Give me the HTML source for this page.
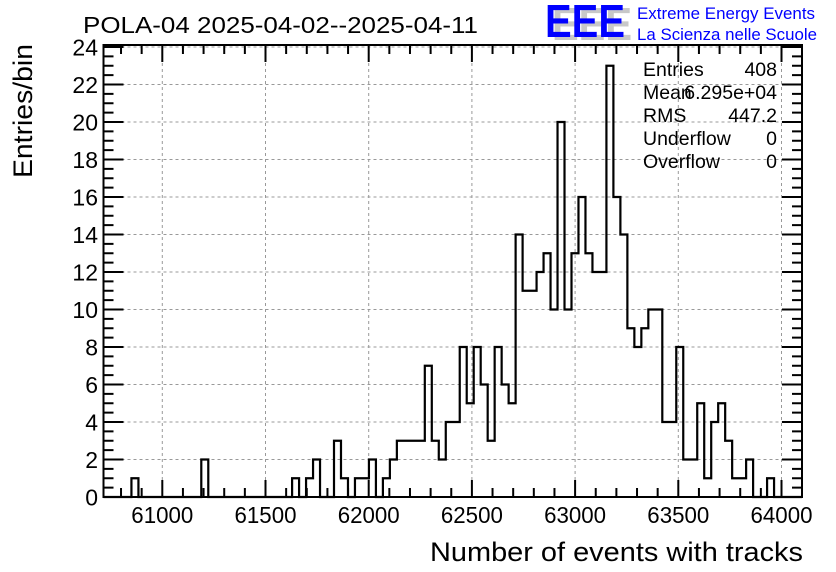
<!DOCTYPE html>
<html><head><meta charset="utf-8"><style>
html,body{margin:0;padding:0;background:#fff;}
svg{display:block;font-family:"Liberation Sans",Arial,sans-serif;}
</style></head><body>
<svg id="s" width="836" height="572" viewBox="0 0 836 572" xmlns="http://www.w3.org/2000/svg">
<rect width="836" height="572" fill="#fff"/>
<g id="grid" stroke="#999" stroke-width="1" stroke-dasharray="3,3" fill="none"></g>
<g id="ticks" stroke="#000" stroke-width="2" fill="none"></g>
<path id="hist" fill="none" stroke="#000" stroke-width="2.2"/>
<rect x="103.5" y="45" width="698.5" height="452" fill="none" stroke="#000" stroke-width="2"/>
<text x="83" y="33" font-size="23" textLength="395" lengthAdjust="spacingAndGlyphs">POLA-04 2025-04-02--2025-04-11</text>
<g font-size="46" font-weight="bold">
<text x="552" y="40" fill="#c8c8c8" textLength="80" lengthAdjust="spacingAndGlyphs">EEE</text>
<text x="545" y="37" fill="#0000ff" textLength="80" lengthAdjust="spacingAndGlyphs">EEE</text>
</g>
<text x="637" y="19" font-size="16.5" fill="#0000ff" textLength="178" lengthAdjust="spacingAndGlyphs">Extreme Energy Events</text>
<text x="637" y="40" font-size="16.5" fill="#0000ff" textLength="180" lengthAdjust="spacingAndGlyphs">La Scienza nelle Scuole</text>
<g font-size="19.5" fill="#000">
<text x="643" y="76">Entries</text><text x="777" y="76" text-anchor="end">408</text>
<text x="643" y="99">Mean</text><text x="777" y="99" text-anchor="end">6.295e+04</text>
<text x="643" y="122">RMS</text><text x="777" y="122" text-anchor="end">447.2</text>
<text x="643" y="145">Underflow</text><text x="777" y="145" text-anchor="end">0</text>
<text x="643" y="168">Overflow</text><text x="777" y="168" text-anchor="end">0</text>
</g>
<g id="ylab" font-size="23" text-anchor="end"></g>
<g id="xlab" font-size="23" text-anchor="middle"></g>
<text transform="translate(32,178) rotate(-90)" font-size="27" text-anchor="start" textLength="134" lengthAdjust="spacingAndGlyphs">Entries/bin</text>
<text x="430" y="561" font-size="27" textLength="373" lengthAdjust="spacingAndGlyphs">Number of events with tracks</text>
</svg>
<script>
var ns="http://www.w3.org/2000/svg";
var L=103.5,R=802,T=45,B=497,bw=(R-L)/100,sy=18.75;
var v=[0,0,0,0,1,0,0,0,0,0,0,0,0,0,2,0,0,0,0,0,0,0,0,0,0,0,0,1,0,1,2,0,0,3,1,0,1,1,2,0,1,2,3,3,3,3,7,3,2,4,4,8,5,8,6,3,8,6,5,14,11,11,12,13,10,20,10,13,16,13,12,12,23,16,14,9,8,9,10,10,4,4,8,2,2,5,1,4,5,3,1,1,2,0,0,1,0,0,0,0];
var d="M"+L+" "+B;
for(var i=0;i<100;i++){var y=B-v[i]*sy;d+=" L"+(L+i*bw).toFixed(2)+" "+y.toFixed(2)+" L"+(L+(i+1)*bw).toFixed(2)+" "+y.toFixed(2);}
d+=" L"+R+" "+B;
document.getElementById("hist").setAttribute("d",d);
function el(p,t,a){var e=document.createElementNS(ns,t);for(var k in a)e.setAttribute(k,a[k]);p.appendChild(e);return e;}
var g=document.getElementById("grid"),tk=document.getElementById("ticks"),yl=document.getElementById("ylab"),xl=document.getElementById("xlab");
function xp(val){return 162.3+(val-61000)*0.2064;}
for(var u=60800;u<=64100;u+=100){var x=xp(u);if(x<L||x>R)continue;var maj=(u%500==0);var len=maj?17:9;
 el(tk,"line",{x1:x,y1:B,x2:x,y2:B-len});el(tk,"line",{x1:x,y1:T,x2:x,y2:T+len});
 if(maj){el(g,"line",{x1:x,y1:T,x2:x,y2:B});var t=el(xl,"text",{x:x,y:523,textLength:62,lengthAdjust:"spacingAndGlyphs"});t.textContent=u;}}
for(var n=0;n<=24;n++){var y=B-n*sy;if(y<T-0.5)continue;var maj=(n%2==0);var len=maj?20:10;
 el(tk,"line",{x1:L,y1:y,x2:L+len,y2:y});el(tk,"line",{x1:R,y1:y,x2:R-len,y2:y});
 if(maj){if(n>0)el(g,"line",{x1:L,y1:y,x2:R,y2:y});var t=el(yl,"text",{x:98,y:y+8.5});t.textContent=n;}}
for(var n=0.5;n<24;n+=1){var y=B-n*sy;el(tk,"line",{x1:L,y1:y,x2:L+10,y2:y});el(tk,"line",{x1:R,y1:y,x2:R-10,y2:y});}
</script>
</body></html>
